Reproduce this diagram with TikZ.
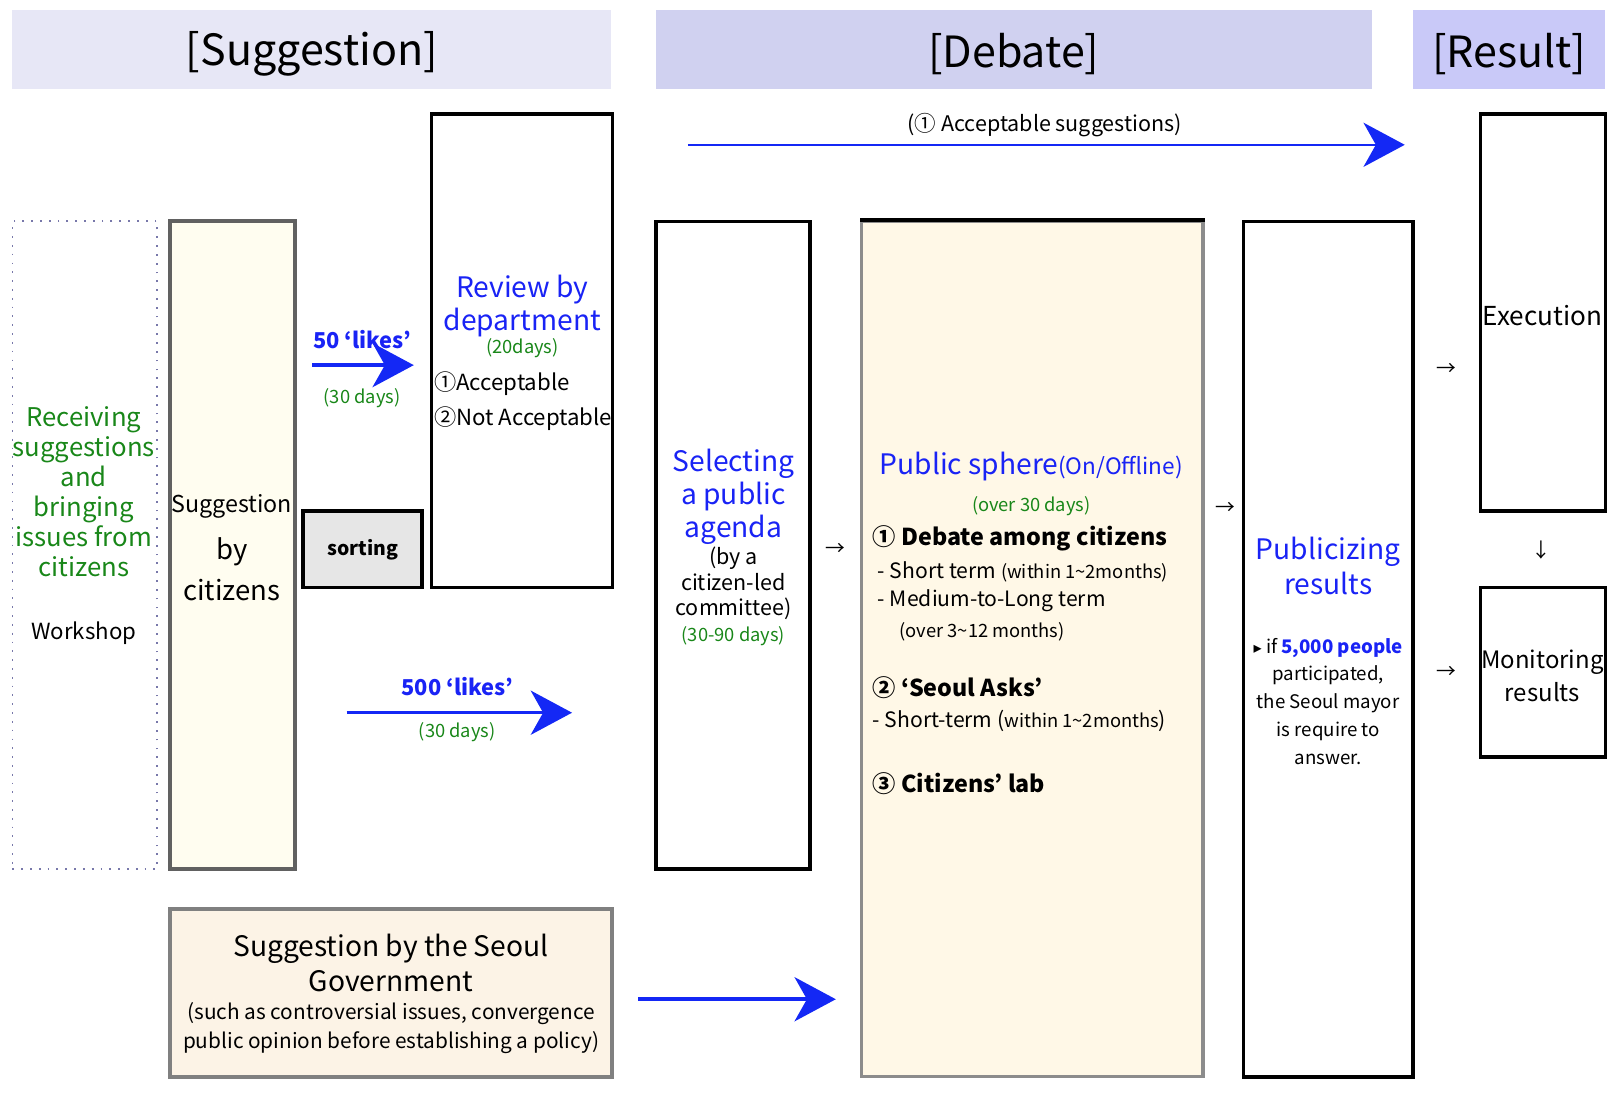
\documentclass[tikz,border=0pt]{standalone}
\usepackage{fontspec}
\setmainfont{Noto Sans CJK KR}
\newfontfamily\symfont{DejaVu Sans}
\usetikzlibrary{arrows.meta,fit}
\definecolor{hdrA}{RGB}{231,231,246}
\definecolor{hdrB}{RGB}{208,209,240}
\definecolor{hdrC}{RGB}{201,201,248}
\definecolor{txtblue}{RGB}{25,35,245}
\definecolor{txtgreen}{RGB}{25,135,25}
\definecolor{arrblue}{RGB}{20,40,245}
\definecolor{ivory}{RGB}{255,253,240}
\definecolor{cream}{RGB}{255,248,231}
\definecolor{peach}{RGB}{252,243,230}
\definecolor{sortgray}{RGB}{230,230,230}
\definecolor{dotline}{RGB}{120,120,170}
\newcommand{\fs}[2]{\fontsize{#1}{#2}\selectfont}

\begin{document}
\begin{tikzpicture}[x=0.2934pt, y=-0.2934pt,
    every node/.style={inner sep=0pt},
    blk/.style={draw=black, line width=1pt},
    gbox/.style={draw=black!62, line width=1.1pt},
    bigarr/.style={arrblue, line width=1pt, -{Stealth[length=11.7pt, width=12.5pt, inset=3.5pt]}},
    bluetxt/.style={text=txtblue, font=\fs{8}{9.4}, align=center},
    greentxt/.style={text=txtgreen, font=\fs{5.2}{7}, align=center},
    hdrtxt/.style={font=\fs{12.2}{14}, yshift=-1.2pt},
    chartxt/.style={font=\fs{5.6}{7}}]
\useasboundingbox (0,0) rectangle (1568,1063);

% headers
\node[fill=hdrA, fit={(12,10) (591,86)}] (hdrS) {};
\node[fill=hdrB, fit={(634,10) (1326,86)}] (hdrD) {};
\node[fill=hdrC, fit={(1366,10) (1552,86)}] (hdrR) {};
\node[hdrtxt] at (hdrS) {[Suggestion]};
\node[hdrtxt] at (hdrD) {[Debate]};
\node[hdrtxt] at (hdrR) {[Result]};

% boxes
\node[draw=dotline, dotted, line width=.5pt, fit={(12,214) (152,840)}] (recv) {};
\node[gbox, fill=ivory, fit={(164,214) (285,840)}] (citz) {};
\node[blk, fit={(417,110) (592,568)}] (review) {};
\node[blk, fill=sortgray, fit={(293,494) (408,568)}] (sort) {};
\node[blk, fit={(634,214) (783,840)}] (select) {};
\node[draw=black!45, line width=.9pt, fill=cream, fit={(833,214) (1163,1041)}] (public) {};
\draw[line width=1pt] (public.north west) -- (public.north east);
\node[blk, fit={(1202,214) (1366,1041)}] (pblz) {};
\node[blk, fit={(1431,110) (1552,494)}] (exec) {};
\node[blk, fit={(1431,568) (1552,732)}] (monit) {};
\node[gbox, draw=black!50, fill=peach, fit={(164,879) (592,1041)}] (gov) {};

% texts
\node[text=txtgreen, font=\fs{7.3}{8.5}, align=center] (recvT) at (81,475) {Receiving\\suggestions\\and\\bringing\\issues from\\citizens};
\node[font=\fs{6.3}{8}] (wshop) at (81,612) {Workshop};
\node[font=\fs{6.6}{8}] (citzA) at (224,490) {Suggestion};
\node[font=\fs{7.8}{11.7}, align=center] (citzB) at (224,550) {by\\citizens};
\node[bluetxt] (revT) at (505,296) {Review by\\department};
\node[greentxt] (revD) at (505,337) {(20days)};
\node[anchor=west, font=\fs{6.3}{10}, align=left] (revL) at (419,388) {①Acceptable\\②Not Acceptable};
\node[font=\bfseries\fs{5.5}{7}] (sortT) at (sort) {sorting};
\node[bluetxt] (selT) at (709,480) {Selecting\\a public\\agenda};
\node[font=\fs{6.1}{7.3}, align=center] (selB) at (709,564) {(by a\\citizen-led\\committee)};
\node[greentxt] (selD) at (709,615) {(30-90 days)};
\node[text=txtblue] (pubT) at (997,451) {{\fs{8}{10}Public sphere}{\fs{6.4}{8}(On/Offline)}};
\node[greentxt] (pubD) at (997,489) {(over 30 days)};
\node[anchor=west, font=\bfseries\fs{6.6}{8}] (p1) at (843,520) {① Debate among citizens};
\node[anchor=west, font=\fs{6}{8}] (p1a) at (848,553) {- Short term {\fs{5.2}{7}(within 1\textasciitilde2months)}};
\node[anchor=west, font=\fs{6}{8}] (p1b) at (848,581) {- Medium-to-Long term};
\node[anchor=west, font=\fs{5.2}{7}] (p1c) at (869,611) {(over 3\textasciitilde12 months)};
\node[anchor=west, font=\bfseries\fs{6.6}{8}] (p2) at (843,665) {② ‘Seoul Asks’};
\node[anchor=west, font=\fs{6}{8}] (p2a) at (843,697) {- Short-term ({\fs{5.2}{7}within 1\textasciitilde2months})};
\node[anchor=west, font=\bfseries\fs{6.6}{8}] (p3) at (843,758) {③ Citizens’ lab};
\node[bluetxt, font=\fs{8}{10}] (pbT) at (1284,547) {Publicizing\\results};
\node[font=\fs{5.3}{7.9}, align=center] (pbN) at (1284,678) {{\symfont\fs{4.6}{5}▸} if {\bfseries\color{txtblue}5,000 people}\\participated,\\the Seoul mayor\\is require to\\answer.};
\node[font=\fs{7.4}{9}] (execT) at (1491,305) {Execution};
\node[font=\fs{6.8}{9.4}, align=center] (monT) at (1491,653) {Monitoring\\results};
\node[font=\fs{8}{10}, align=center] (govT) at (378,931) {Suggestion by the Seoul\\Government};
\node[font=\fs{5.9}{8.2}, align=center] (govS) at (378,994) {(such as controversial issues, convergence\\public opinion before establishing a policy)};

% small arrows
\node[chartxt] (c1) at (808,531) {→};
\node[chartxt] (c2) at (1185,492) {→};
\node[chartxt] (c3) at (1398,357) {→};
\node[chartxt] (c4) at (1398,650) {→};
\node[chartxt] (c5) at (1490,532) {↓};

% blue arrows
\coordinate (topA) at (665,140);
\coordinate (topB) at (1358,140);
\draw[bigarr, line width=.7pt] (topA) -- (topB);
\node[font=\fs{6.1}{8}] (topL) at (1010,121) {(① Acceptable suggestions)};
\coordinate (l50a) at (302,353);
\coordinate (l50b) at (400,353);
\draw[bigarr] (l50a) -- (l50b);
\node[text=txtblue, font=\bfseries\fs{6.2}{8}] (l50t) at (350,328) {50 ‘likes’};
\node[greentxt] (l50d) at (350,385) {(30 days)};
\coordinate (l500a) at (335,689);
\coordinate (l500b) at (553,689);
\draw[bigarr] (l500a) -- (l500b);
\node[text=txtblue, font=\bfseries\fs{6.2}{8}] (l500t) at (442,664) {500 ‘likes’};
\node[greentxt] (l500d) at (442,708) {(30 days)};
\coordinate (govA) at (617,966);
\coordinate (govB) at (808,966);
\draw[bigarr] (govA) -- (govB);
\end{tikzpicture}
\end{document}
